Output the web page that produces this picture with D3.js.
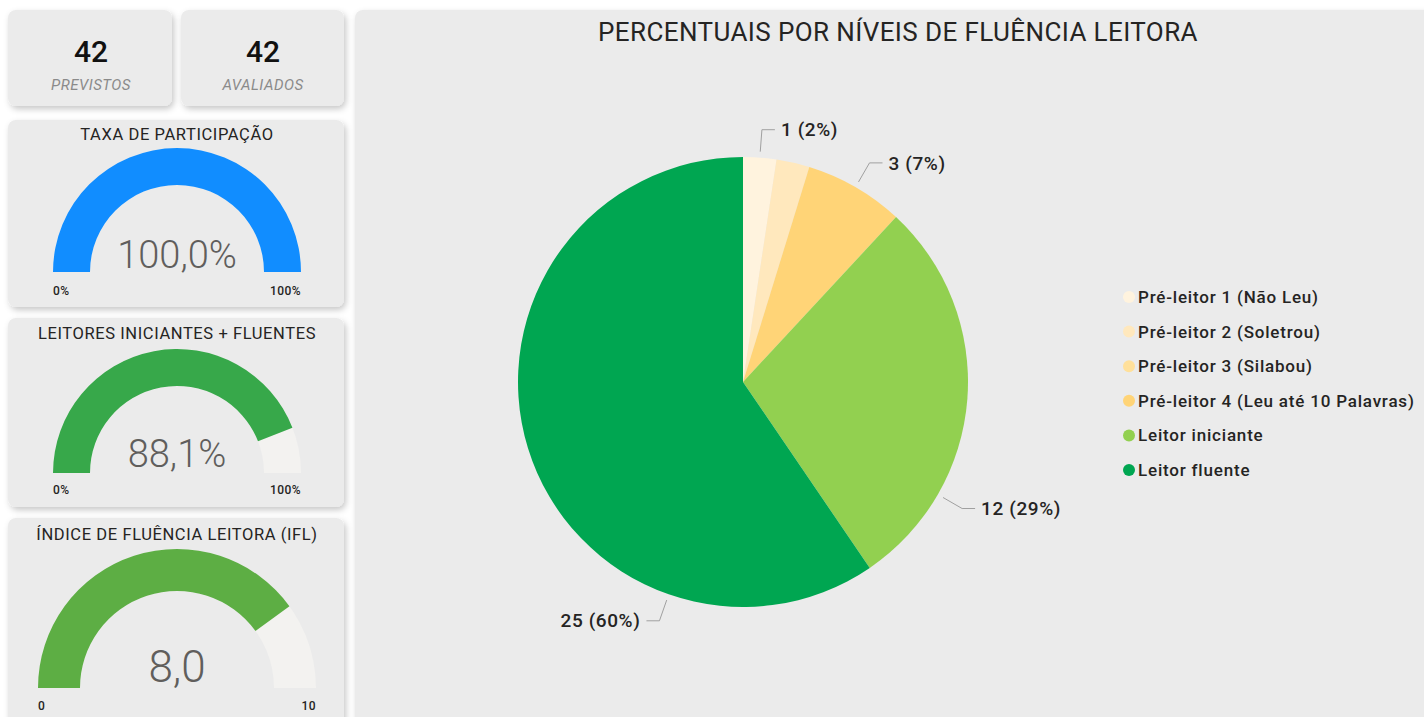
<!DOCTYPE html>
<html>
<head>
<meta charset="utf-8">
<script src="https://cdn.jsdelivr.net/npm/d3@7"></script>
<style>
  body { margin: 0; background: #ffffff; font-family: Roboto, "DejaVu Sans", sans-serif; }
  svg { display: block; }
</style>
</head>
<body>
<div id="chart"></div>
<script>
// data
const levels = ['Pré-leitor 1 (Não Leu)', 'Pré-leitor 2 (Soletrou)', 'Pré-leitor 3 (Silabou)',
    'Pré-leitor 4 (Leu até 10 Palavras)', 'Leitor iniciante', 'Leitor fluente'];
const counts = [1, 1, 0, 3, 12, 25];
const levelColors = ['#FFF3DE', '#FFE8BD', '#FFE09A', '#FFD477', '#92D050', '#00A651'];
const showLabel = [true, false, false, true, true, true];
const labelPos = [0.5, 0.5, 0.5, 0.5, 0.75, 0.25]; // where in the slice the label line leaves (Power BI style)

const previstos = 42;
const avaliados = 42;

const gauges = [
    { title: 'TAXA DE PARTICIPAÇÃO', value: 100.0, max: 100, text: '100,0%', minLabel: '0%', maxLabel: '100%', color: '#118DFF' },
    { title: 'LEITORES INICIANTES + FLUENTES', value: 88.1, max: 100, text: '88,1%', minLabel: '0%', maxLabel: '100%', color: '#37A84A' },
    { title: 'ÍNDICE DE FLUÊNCIA LEITORA (IFL)', value: 8.0, max: 10, text: '8,0', minLabel: '0', maxLabel: '10', color: '#5DAE44' }
];

const width = 1424, height = 717;
const svg = d3.select('#chart').append('svg')
    .attr('width', width)
    .attr('height', height);

const defs = svg.append('defs');
const shadow = defs.append('filter').attr('id', 'shadow')
    .attr('x', '-10%').attr('y', '-10%').attr('width', '130%').attr('height', '130%');
shadow.append('feDropShadow')
    .attr('dx', 2).attr('dy', 3).attr('stdDeviation', 3)
    .attr('flood-color', '#000').attr('flood-opacity', 0.22);

// cards
function card(x, y, w, h) {
    svg.append('rect')
        .attr('x', x).attr('y', y).attr('width', w).attr('height', h)
        .attr('rx', 8)
        .attr('fill', '#EBEBEB')
        .attr('filter', 'url(#shadow)');
}

card(8, 10, 164, 96);
card(181, 10, 163, 96);
card(8, 120, 336, 187);
card(8, 318, 336, 189);
card(8, 518, 336, 210);
card(355, 10, 1080, 720);

// KPI cards
const kpis = [
    { x: 91, value: previstos, label: 'PREVISTOS' },
    { x: 263, value: avaliados, label: 'AVALIADOS' }
];
kpis.forEach(function(k) {
    svg.append('text')
        .attr('x', k.x).attr('y', 62)
        .attr('text-anchor', 'middle')
        .attr('font-size', 30)
        .attr('font-weight', 500)
        .attr('fill', '#111')
        .text(k.value);
    svg.append('text')
        .attr('x', k.x).attr('y', 90)
        .attr('text-anchor', 'middle')
        .attr('font-size', 15)
        .attr('letter-spacing', 0.5)
        .attr('font-style', 'italic')
        .attr('fill', '#8a8a8a')
        .text(k.label);
});

// gauges
const gaugeLayout = [
    { cy: 272, titleY: 140, outer: 124, inner: 87, valueY: 268, valueSize: 38, tickY: 295, tickSize: 12 },
    { cy: 473, titleY: 339, outer: 124, inner: 87, valueY: 467, valueSize: 38, tickY: 494, tickSize: 12 },
    { cy: 688, titleY: 540, outer: 139, inner: 97, valueY: 682, valueSize: 44, tickY: 710, tickSize: 12 }
];

gauges.forEach(function(g, i) {
    const L = gaugeLayout[i];
    const cx = 177;
    const gG = svg.append('g').attr('transform', `translate(${cx},${L.cy})`);
    const angle = d3.scaleLinear().domain([0, g.max]).range([-Math.PI / 2, Math.PI / 2]);
    const arc = d3.arc().innerRadius(L.inner).outerRadius(L.outer);

    gG.append('path')
        .attr('d', arc({ startAngle: -Math.PI / 2, endAngle: Math.PI / 2 }))
        .attr('fill', '#F3F2F0');
    gG.append('path')
        .attr('d', arc({ startAngle: -Math.PI / 2, endAngle: angle(g.value) }))
        .attr('fill', g.color);

    gG.append('text')
        .attr('x', 0).attr('y', L.valueY - L.cy)
        .attr('text-anchor', 'middle')
        .attr('font-size', L.valueSize)
        .attr('font-weight', 300)
        .attr('fill', '#605E5C')
        .text(g.text);

    gG.append('text')
        .attr('x', -L.outer).attr('y', L.tickY - L.cy)
        .attr('font-size', L.tickSize)
        .attr('letter-spacing', 0.4)
        .attr('font-weight', 500)
        .attr('fill', '#252423')
        .text(g.minLabel);
    gG.append('text')
        .attr('x', L.outer).attr('y', L.tickY - L.cy)
        .attr('text-anchor', 'end')
        .attr('font-size', L.tickSize)
        .attr('letter-spacing', 0.4)
        .attr('font-weight', 500)
        .attr('fill', '#252423')
        .text(g.maxLabel);

    svg.append('text')
        .attr('x', cx).attr('y', L.titleY)
        .attr('text-anchor', 'middle')
        .attr('font-size', 16.5)
        .attr('letter-spacing', 0.6)
        .attr('fill', '#252423')
        .text(g.title);
});

// main pie
svg.append('text')
    .attr('x', 898).attr('y', 41)
    .attr('text-anchor', 'middle')
    .attr('font-size', 26)
    .attr('letter-spacing', 0.4)
    .attr('fill', '#252423')
    .text('PERCENTUAIS POR NÍVEIS DE FLUÊNCIA LEITORA');

const total = d3.sum(counts);
const pieData = levels.map(function(l, i) {
    return { level: l, count: counts[i], color: levelColors[i], show: showLabel[i], pos: labelPos[i] };
});

const radius = 225;
const pie = d3.pie().value(function(d) { return d.count; }).sort(null);
const arcs = pie(pieData);
const arcGen = d3.arc().innerRadius(0).outerRadius(radius);

const gPie = svg.append('g').attr('transform', 'translate(743,382)');
gPie.selectAll('path.slice')
    .data(arcs)
    .join('path')
    .attr('class', 'slice')
    .attr('d', arcGen)
    .attr('fill', function(d) { return d.data.color; });

const pct = d3.format('.0%');
const labelled = arcs.filter(function(d) { return d.data.show && d.data.count > 0; });

labelled.forEach(function(d) {
    const a = d.startAngle + (d.endAngle - d.startAngle) * d.data.pos;
    const p0 = [Math.sin(a) * (radius + 6), -Math.cos(a) * (radius + 6)];
    const p1 = [Math.sin(a) * (radius + 28), -Math.cos(a) * (radius + 28)];
    const right = Math.sin(a) >= 0;
    const p2 = [p1[0] + (right ? 13 : -13), p1[1]];

    gPie.append('polyline')
        .attr('points', [p0, p1, p2].map(function(p) { return p.join(','); }).join(' '))
        .attr('fill', 'none')
        .attr('stroke', '#A0A0A0')
        .attr('stroke-width', 1);

    gPie.append('text')
        .attr('x', p2[0] + (right ? 6 : -6))
        .attr('y', p2[1])
        .attr('dy', '0.35em')
        .attr('text-anchor', right ? 'start' : 'end')
        .attr('font-size', 19)
        .attr('letter-spacing', 0.6)
        .attr('font-weight', 500)
        .attr('fill', '#252423')
        .text(d.data.count + ' (' + pct(d.data.count / total) + ')');
});

// legend
const legend = svg.append('g').attr('transform', 'translate(1129,297)');
const legendY = d3.scalePoint().domain(levels).range([0, 173]);
const items = legend.selectAll('g.item')
    .data(pieData)
    .join('g')
    .attr('class', 'item')
    .attr('transform', function(d) { return `translate(0,${legendY(d.level)})`; });
items.append('circle')
    .attr('r', 6)
    .attr('fill', function(d) { return d.color; });
items.append('text')
    .attr('x', 9)
    .attr('dy', '0.35em')
    .attr('font-size', 17)
    .attr('letter-spacing', 0.8)
    .attr('font-weight', 500)
    .attr('fill', '#252423')
    .text(function(d) { return d.level; });
</script>
</body>
</html>
